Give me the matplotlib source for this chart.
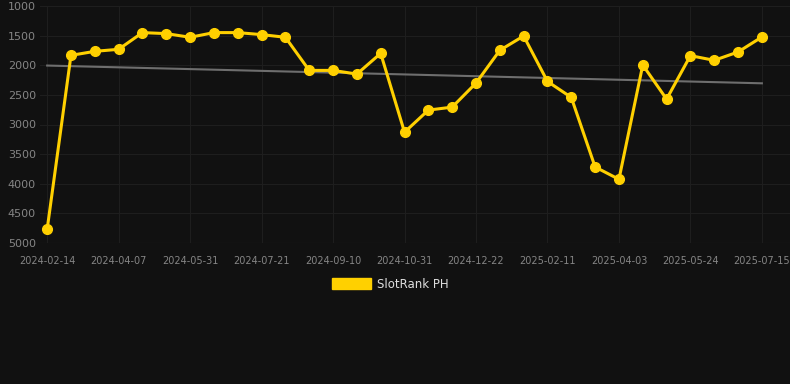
import matplotlib
matplotlib.use("Agg")
import matplotlib.pyplot as plt
import matplotlib.patches as mpatches
import numpy as np

# dates (every third one is labelled on the axis)
dates = ["2024-02-14", "2024-03-02", "2024-03-20", "2024-04-07", "2024-04-25",
         "2024-05-13", "2024-05-31", "2024-06-17", "2024-07-04", "2024-07-21",
         "2024-08-07", "2024-08-24", "2024-09-10", "2024-09-27", "2024-10-14",
         "2024-10-31", "2024-11-17", "2024-12-05", "2024-12-22", "2025-01-08",
         "2025-01-25", "2025-02-11", "2025-02-28", "2025-03-17", "2025-04-03",
         "2025-04-20", "2025-05-07", "2025-05-24", "2025-06-10", "2025-06-27",
         "2025-07-15"]
rank = [4770, 1833, 1765, 1731, 1449, 1466, 1528, 1449, 1449, 1483,
        1528, 2087, 2087, 2149, 1799, 3130, 2757, 2707, 2301, 1748,
        1506, 2273, 2543, 3717, 3925, 1996, 2572, 1838, 1917, 1776,
        1523]
y_ticks = [1000, 1500, 2000, 2500, 3000, 3500, 4000, 4500, 5000]

bg = "#111111"
gold = "#FFD000"

fig = plt.figure(figsize=(7.9, 3.84), dpi=100, facecolor=bg)
ax = fig.add_axes([40 / 790, 141 / 384, 750 / 790, 237 / 384], facecolor=bg)

x = np.arange(len(rank))

# trend line from a linear fit
coef = np.polyfit(x, rank, 1)
ax.plot(x, np.polyval(coef, x), color="#6e6e6e", lw=1.5, zorder=2)

ax.plot(x, rank, color=gold, lw=2.2, marker="o", markersize=7,
        markerfacecolor=gold, markeredgecolor=gold, zorder=3)

ax.set_ylim(5000, 1000)
ax.set_yticks(y_ticks)
ax.set_xlim(-0.3, 31.18)
ax.set_xticks(x[::3])
ax.set_xticklabels(dates[::3])

ax.grid(True, color="#1e1e1e", lw=0.8)
ax.axhline(5000, color="#2a2a2a", lw=0.8, zorder=1)
ax.set_axisbelow(True)
for s in ax.spines.values():
    s.set_visible(False)
ax.tick_params(axis="y", length=0, pad=3, labelsize=8, labelcolor="#858585")
ax.tick_params(axis="x", length=0, pad=9, labelsize=7, labelcolor="#858585")

handle = mpatches.Patch(color=gold, label="SlotRank PH")
fig.legend(handles=[handle], loc="center", bbox_to_anchor=(390 / 790, 1 - 284 / 384),
           frameon=False, fontsize=8.5, labelcolor="#dddddd",
           handlelength=3.3, handleheight=1.0, handletextpad=0.5)

fig.savefig("out.png", dpi=100, facecolor=bg)
